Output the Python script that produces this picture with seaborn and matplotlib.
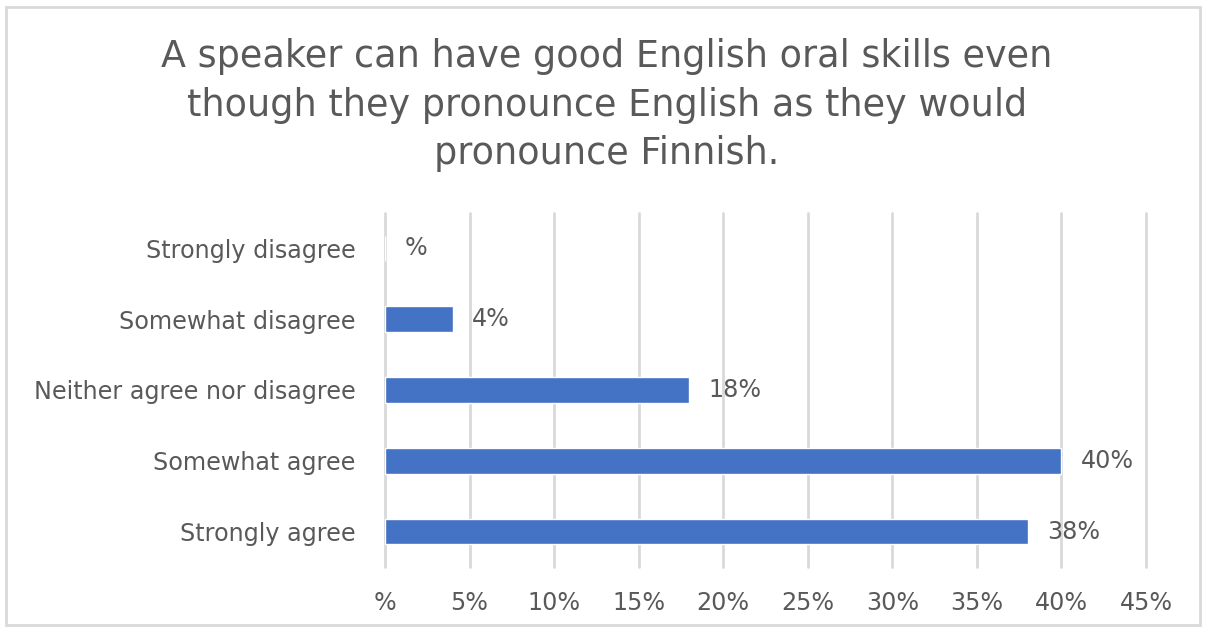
import matplotlib
matplotlib.use("Agg")
import matplotlib.pyplot as plt
from matplotlib.patches import Rectangle
from matplotlib.ticker import FuncFormatter
import seaborn as sns
import pandas as pd

# Survey responses (share of respondents, %)
categories = [
    "Strongly disagree",
    "Somewhat disagree",
    "Neither agree nor disagree",
    "Somewhat agree",
    "Strongly agree",
]
shares = [0, 4, 18, 40, 38]
x_ticks = [0, 5, 10, 15, 20, 25, 30, 35, 40, 45]

title = ("A speaker can have good English oral skills even\n"
         "though they pronounce English as they would\n"
         "pronounce Finnish.")

df = pd.DataFrame({"category": categories, "share": shares})

sns.set_theme(style="white")
plt.rcParams["font.family"] = ["DejaVu Sans"]

text_color = "#595959"
grid_color = "#d9d9d9"
bar_color = "#4472c4"
label_size = 17.2


def pct(v):
    # zero shows as a bare percent sign
    return f"{v:.0f}%" if round(v) != 0 else "%"


fig = plt.figure(figsize=(12.07, 6.32), dpi=100)
ax = fig.add_axes([385 / 1207, 1 - 567 / 632, (1146 - 385) / 1207, (567 - 213) / 632])

sns.barplot(data=df, x="share", y="category", orient="h", color=bar_color,
            saturation=1, width=0.36, ax=ax, order=categories)

ax.set_xlim(0, 45)
ax.set_xticks(x_ticks)
ax.xaxis.set_major_formatter(FuncFormatter(lambda v, _: pct(v)))
ax.set_xlabel("")
ax.set_ylabel("")
ax.grid(axis="x", color=grid_color, linewidth=2)
for gl in ax.get_xgridlines():
    gl.set_clip_on(False)
ax.set_axisbelow(True)
for s in ax.spines.values():
    s.set_visible(False)
ax.tick_params(axis="both", length=0, labelsize=label_size, colors=text_color)
ax.tick_params(axis="y", pad=21)
ax.tick_params(axis="x", pad=17)

for i, v in enumerate(shares):
    ax.annotate(pct(v), xy=(v, i), xytext=(14, 0), textcoords="offset points",
                ha="left", va="center", fontsize=label_size, color=text_color)

fig.text(0.503, 1 - 105 / 632, title, ha="center", va="center",
         fontsize=26.3, color=text_color, linespacing=1.39)

fig.patches.append(Rectangle((6 / 1207, 1 - 625 / 632), 1194 / 1207, 618 / 632,
                             transform=fig.transFigure, fill=False,
                             edgecolor=grid_color, linewidth=2))

fig.savefig("out.png", dpi=100)
